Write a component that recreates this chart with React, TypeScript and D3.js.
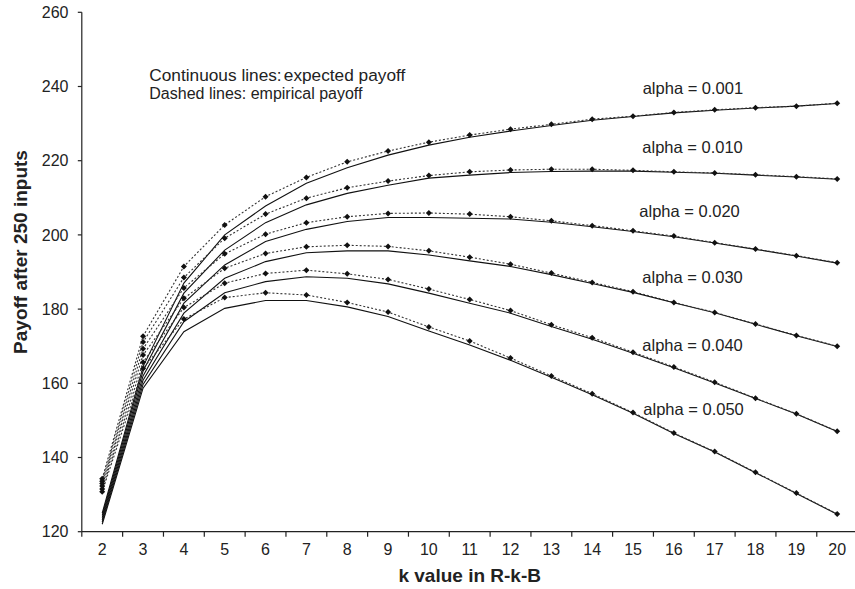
import React from "react";
import * as d3 from "d3";

// k values of the R-k-B scheme
const kValues = [2, 3, 4, 5, 6, 7, 8, 9, 10, 11, 12, 13, 14, 15, 16, 17, 18, 19, 20];

const alphaLabels = ["alpha = 0.001", "alpha = 0.010", "alpha = 0.020", "alpha = 0.030", "alpha = 0.040", "alpha = 0.050"];

// Expected payoff (continuous lines), one array per alpha
const expected001 = [125.0, 164.5, 187.0, 200.0, 207.8, 213.9, 218.1, 221.5, 224.2, 226.3, 228.0, 229.5, 230.9, 231.9, 232.9, 233.6, 234.2, 234.7, 235.4];
const expected010 = [124.4, 163.3, 184.3, 195.9, 203.3, 208.1, 211.2, 213.4, 215.3, 216.1, 216.8, 217.1, 217.2, 217.2, 216.9, 216.6, 216.1, 215.6, 215.0];
const expected020 = [123.8, 162.0, 181.6, 191.9, 198.2, 201.5, 203.6, 204.7, 204.7, 204.5, 204.3, 203.4, 202.2, 200.9, 199.5, 197.8, 196.1, 194.3, 192.4];
const expected030 = [123.2, 160.8, 178.9, 188.3, 192.8, 195.2, 195.7, 195.7, 194.6, 193.0, 191.5, 189.3, 186.9, 184.5, 181.7, 179.0, 175.9, 172.8, 169.9];
const expected040 = [122.6, 159.7, 176.6, 184.4, 187.4, 188.7, 188.3, 186.8, 184.3, 181.6, 178.9, 175.3, 171.9, 168.1, 164.2, 160.1, 155.9, 151.7, 147.0];
const expected050 = [122.0, 158.7, 173.9, 180.2, 182.3, 182.3, 180.6, 178.0, 174.1, 170.3, 166.2, 161.6, 156.9, 151.9, 146.5, 141.5, 135.9, 130.3, 124.7];

// Empirical payoff (dashed lines with markers), one array per alpha
const empirical001 = [134.3, 172.7, 191.5, 202.7, 210.3, 215.5, 219.7, 222.6, 225.0, 226.9, 228.5, 229.8, 231.2, 232.0, 233.0, 233.7, 234.3, 234.7, 235.5];
const empirical010 = [133.6, 171.1, 188.5, 199.1, 205.6, 209.9, 212.7, 214.5, 216.0, 217.0, 217.5, 217.7, 217.7, 217.4, 217.0, 216.7, 216.2, 215.7, 215.1];
const empirical020 = [133.0, 169.3, 185.7, 194.9, 200.2, 203.3, 204.9, 205.8, 205.9, 205.6, 204.9, 203.8, 202.5, 201.1, 199.7, 197.9, 196.2, 194.4, 192.5];
const empirical030 = [132.3, 167.6, 182.9, 191.0, 195.0, 196.8, 197.2, 196.9, 195.7, 194.0, 192.1, 189.7, 187.2, 184.7, 181.8, 179.1, 176.0, 172.9, 170.0];
const empirical040 = [131.5, 165.7, 180.4, 187.0, 189.6, 190.5, 189.5, 188.0, 185.4, 182.6, 179.6, 175.8, 172.3, 168.4, 164.4, 160.3, 156.0, 151.8, 147.1];
const empirical050 = [130.8, 164.0, 177.3, 183.1, 184.4, 183.8, 181.8, 179.2, 175.2, 171.4, 166.8, 162.0, 157.2, 152.1, 146.6, 141.6, 136.0, 130.4, 124.8];

const yTicks = [120, 140, 160, 180, 200, 220, 240, 260];

const expectedSeries = [expected001, expected010, expected020, expected030, expected040, expected050];
const empiricalSeries = [empirical001, empirical010, empirical020, empirical030, empirical040, empirical050];

// pixel anchors of the alpha captions
const labelPos = [
  { x: 642.7, y: 93.5 },
  { x: 642.3, y: 152.5 },
  { x: 639.3, y: 217 },
  { x: 642.3, y: 283 },
  { x: 642.3, y: 351 },
  { x: 643.3, y: 415 },
];

const W = 855;
const H = 589;
const left = 81.8;
const right = 857.6;
const top = 12.3;
const bottom = 531.7;

export default function App() {
  const x = d3
    .scaleBand<string>()
    .domain(kValues.map(String))
    .range([left, right])
    .padding(0);
  const bw = x.bandwidth();
  const cx = (k: number) => (x(String(k)) as number) + bw / 2;
  const y = d3.scaleLinear().domain([120, 260]).range([bottom, top]);

  const line = d3
    .line<number>()
    .x((_, i) => cx(kValues[i]))
    .y((v) => y(v));

  const font = "'Liberation Sans', Arial, Helvetica, sans-serif";
  const boundaries = kValues.map((k) => x(String(k)) as number);

  const diamond = (px: number, py: number, r: number) =>
    `M${px},${py - r}L${px + r},${py}L${px},${py + r}L${px - r},${py}Z`;

  return (
    <svg
      width={W}
      height={H}
      style={{ position: "absolute", left: 0, top: 0, display: "block", background: "#fff" }}
      fontFamily={font}
    >
      <rect width={W} height={H} fill="#fff" />

      {/* expected payoff curves */}
      {expectedSeries.map((s, i) => (
        <path key={"e" + i} d={line(s) || ""} fill="none" stroke="#111" strokeWidth={1.1} />
      ))}

      {/* empirical payoff curves */}
      {empiricalSeries.map((s, i) => (
        <path
          key={"m" + i}
          d={line(s) || ""}
          fill="none"
          stroke="#333"
          strokeWidth={1.1}
          strokeDasharray="2,2"
        />
      ))}
      {empiricalSeries.map((s, i) => (
        <g key={"d" + i}>
          {s.map((v, j) => (
            <path key={j} d={diamond(cx(kValues[j]), y(v), 3)} fill="#111" />
          ))}
        </g>
      ))}

      {/* y axis */}
      <line x1={left} x2={left} y1={top} y2={bottom} stroke="#222" strokeWidth={1.2} />
      {yTicks.map((t) => (
        <g key={t}>
          <line x1={left - 4} x2={left} y1={y(t)} y2={y(t)} stroke="#222" strokeWidth={1.2} />
          <text x={68.5} y={y(t)} dy="0.36em" textAnchor="end" fontSize={16} fill="#222">
            {t}
          </text>
        </g>
      ))}

      {/* x axis */}
      <line x1={left} x2={right} y1={bottom} y2={bottom} stroke="#222" strokeWidth={1.2} />
      {boundaries.map((b, i) => (
        <line key={i} x1={b} x2={b} y1={bottom} y2={bottom + 5} stroke="#222" strokeWidth={1.2} />
      ))}
      {kValues.map((k) => (
        <text key={k} x={cx(k)} y={bottom + 18} dy="0.36em" textAnchor="middle" fontSize={16} fill="#222">
          {k}
        </text>
      ))}

      {/* axis titles */}
      <text x={(left + right) / 2} y={582} textAnchor="middle" fontSize={19} fontWeight="bold" fill="#222">
        k value in R-k-B
      </text>
      <text
        transform={`translate(27, ${(top + bottom) / 2 - 20}) rotate(-90)`}
        textAnchor="middle"
        fontSize={19}
        fontWeight="bold"
        fill="#222"
      >
        Payoff after 250 inputs
      </text>

      {/* notes */}
      <text x={149.3} y={81} fontSize={16.3} fill="#222" textLength={256} lengthAdjust="spacingAndGlyphs">
        Continuous lines:<tspan dx={2}>expected payoff</tspan>
      </text>
      <text x={149.3} y={99} fontSize={16} fill="#222">
        Dashed lines: empirical payoff
      </text>

      {alphaLabels.map((l, i) => (
        <text key={l} x={labelPos[i].x} y={labelPos[i].y} fontSize={16.5} fill="#222">
          {l}
        </text>
      ))}
    </svg>
  );
}
